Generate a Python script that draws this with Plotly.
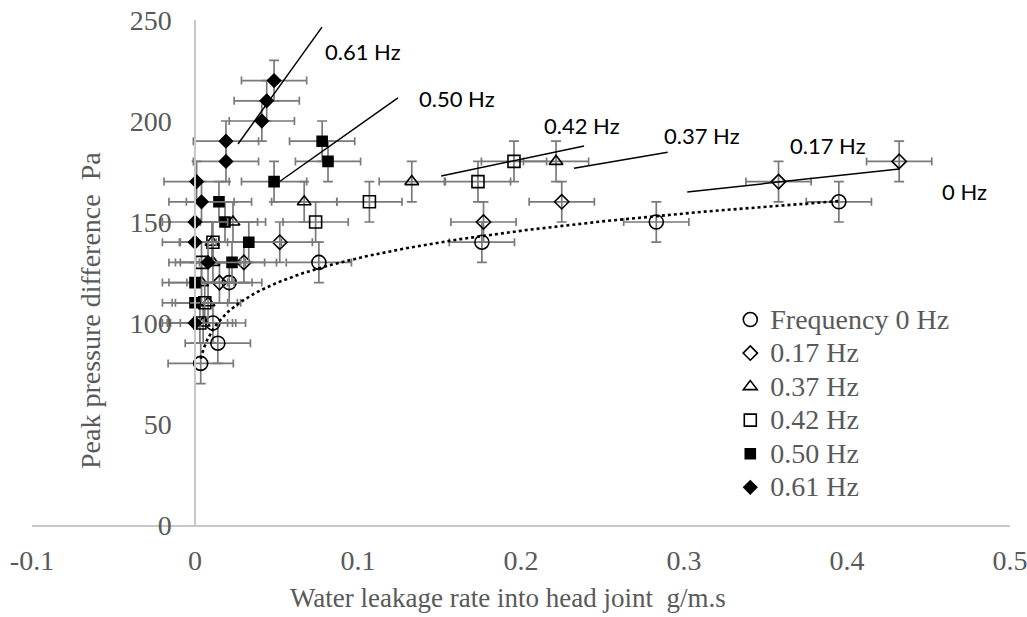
import numpy as np
import plotly.graph_objects as go

# ---------------- data ----------------
f0_x = [0.0035, 0.014, 0.011, 0.021, 0.076, 0.176, 0.283, 0.395]
f0_y = [80, 90, 100, 120, 130, 140, 150, 160]

f017_x = [0.015, 0.030, 0.052, 0.177, 0.225, 0.358, 0.432]
f017_y = [120, 130, 140, 150, 160, 170, 180]

f037_x = [0.005, 0.008, 0.004, 0.011, 0.0104, 0.0233, 0.067, 0.133, 0.2215]
f037_y = [100, 110, 120, 130, 140, 150, 160, 170, 180]

f042_x = [0.003, 0.006, 0.004, 0.011, 0.074, 0.107, 0.1736, 0.1957]
f042_y = [100, 110, 130, 140, 150, 160, 170, 180]

f050_x = [0.0, 0.0, 0.0227, 0.033, 0.0184, 0.0147, 0.0485, 0.0816, 0.078]
f050_y = [110, 120, 130, 140, 150, 160, 170, 180, 190]

f061_x = [0.0, 0.008, 0.0, 0.0, 0.004, 0.001, 0.019, 0.019, 0.041, 0.044, 0.0485]
f061_y = [100, 130, 140, 150, 160, 170, 180, 190, 200, 210, 220]

err_x = 0.02
err_y = 10

# hand-drawn guide lines (x0, x1), (y0, y1)
guide_061 = ([0.0264, 0.0779], [188.6, 246.5])
guide_050 = ([0.0515, 0.1245], [169.8, 211.4])
guide_042 = ([0.151, 0.2387], [172.8, 187.6])
guide_037 = ([0.2325, 0.290], [176.6, 184.5])
guide_017 = ([0.302, 0.432], [164.9, 176.2])

x_tickvals = [-0.1, 0, 0.1, 0.2, 0.3, 0.4, 0.5]
x_ticktext = ["-0.1", "0", "0.1", "0.2", "0.3", "0.4", "0.5"]
y_tickvals = [0, 50, 100, 150, 200, 250]

# ---------------- figure ----------------
fig = go.Figure()

ERRC = "#7a7a7a"
SERIF = "Liberation Serif, Times New Roman, serif"

def ebx():
    return dict(type="constant", value=err_x, color=ERRC, thickness=1.7, width=4)

def eby():
    return dict(type="constant", value=err_y, color=ERRC, thickness=1.7, width=5)

series = [
    ("Frequency 0 Hz", f0_x, f0_y, "circle-open", 14),
    ("0.17 Hz", f017_x, f017_y, "diamond-open", 11),
    ("0.37 Hz", f037_x, f037_y, "triangle-up-open", 12),
    ("0.42 Hz", f042_x, f042_y, "square-open", 12),
    ("0.50 Hz", f050_x, f050_y, "square", 10),
    ("0.61 Hz", f061_x, f061_y, "diamond", 10),
]

for i, (name, xs, ys, sym, sz) in enumerate(series):
    fig.add_trace(go.Scatter(
        x=xs, y=ys, mode="markers",
        name=f'<span style="font-size:28px">{name}</span>',
        legendgroup=f"g{i}",
        marker=dict(symbol=sym, size=sz, color="black",
                    line=dict(color="black", width=1.6)),
        error_x=ebx(), error_y=eby(),
    ))

# power trendline for 0 Hz (fit from the data)
bx, ax = np.polyfit(np.log(f0_x), np.log(f0_y), 1)
tx = np.linspace(min(f0_x), max(f0_x), 200)
ty = np.exp(ax) * tx ** bx
fig.add_trace(go.Scatter(x=tx, y=ty, mode="lines", showlegend=False,
                         line=dict(color="black", width=2.6, dash="dot"),
                         hoverinfo="skip"))

for gx, gy in [guide_061, guide_050, guide_042, guide_037, guide_017]:
    fig.add_trace(go.Scatter(x=gx, y=gy, mode="lines", showlegend=False,
                             line=dict(color="black", width=1.5),
                             hoverinfo="skip"))

lab_font = dict(family="Lato, Open Sans, sans-serif", size=22, color="black")
labels = [
    ("0.61 Hz", 0.0785, 234.2),
    ("0.50 Hz", 0.1362, 210.9),
    ("0.42 Hz", 0.2129, 198.0),
    ("0.37 Hz", 0.2865, 192.6),
    ("0.17 Hz", 0.3638, 188.1),
    ("0 Hz", 0.457, 164.9),
]
for t, x, y in labels:
    fig.add_annotation(x=x, y=y, xref="x", yref="y", text=t, showarrow=False,
                       xanchor="left", yanchor="middle", font=lab_font)

fig.add_annotation(x=0.487, y=-0.1446, xref="paper", yref="paper",
                   text="Water leakage rate into head joint  g/m.s",
                   showarrow=False, xanchor="center", yanchor="middle",
                   font=dict(family=SERIF, size=27, color="#595959"))
fig.add_annotation(x=0.0593, y=0.4257, xref="paper", yref="paper",
                   text="Peak pressure difference  Pa", textangle=-90,
                   showarrow=False, xanchor="center", yanchor="middle",
                   font=dict(family=SERIF, size=28, color="#595959"))

tick_font = dict(family=SERIF, size=28, color="#595959")

fig.update_layout(
    width=1027, height=617,
    margin=dict(l=32, r=17, t=20, b=92, autoexpand=False),
    paper_bgcolor="white", plot_bgcolor="white",
    showlegend=True,
    legend=dict(x=0.714, y=0.45, xanchor="left", yanchor="top",
                font=dict(family=SERIF, size=23.5, color="#595959"),
                bgcolor="rgba(0,0,0,0)", tracegroupgap=0, itemsizing="trace"),
    xaxis=dict(range=[-0.1, 0.5], tickvals=x_tickvals, ticktext=x_ticktext,
               showgrid=False, zeroline=False, showline=True, linecolor="#c8c8c8",
               linewidth=1.5, ticks="", tickfont=tick_font, ticklabelstandoff=10,
               automargin=False, ticklabeloverflow="allow"),
    yaxis=dict(range=[0, 250], tickvals=y_tickvals, showgrid=False, zeroline=False,
               showline=True, linecolor="#c8c8c8", linewidth=1.5, ticks="",
               anchor="free", position=1/6, tickfont=tick_font, ticklabelstandoff=17,
               automargin=False, ticklabeloverflow="allow"),
)

fig.write_html("out.html")
